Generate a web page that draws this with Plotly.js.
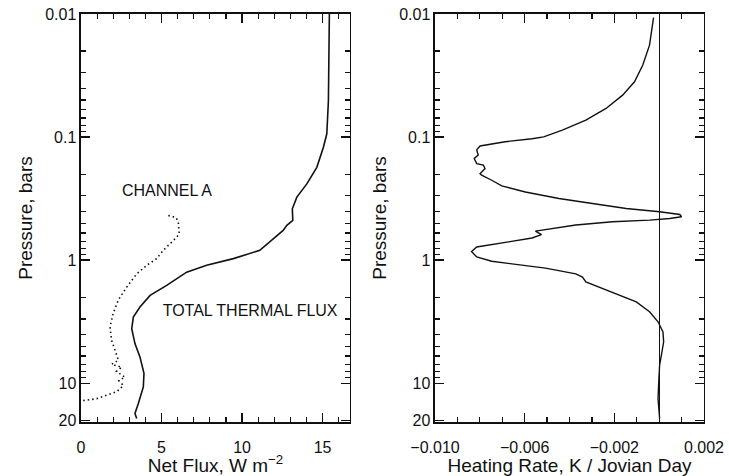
<!DOCTYPE html>
<html>
<head>
<meta charset="utf-8">
<script src="https://cdn.plot.ly/plotly-3.0.1.min.js"></script>
<style>
  html, body { margin: 0; padding: 0; background: #fff; }
  #chart { width: 729px; height: 476px; }
</style>
</head>
<body>
<div id="chart"></div>
<script>
// ---- Left panel: net flux (W m^-2) vs pressure (bars)
const totalFluxP = [0.01, 0.0506, 0.094, 0.121, 0.176, 0.24, 0.307, 0.382, 0.475, 0.52, 0.573, 0.67, 0.83, 0.97, 1.10, 1.25, 1.6, 1.93, 2.4, 2.89, 3.6, 4.75, 6.1, 8.3, 10.7, 14.6, 17.6, 19.3];
const totalFlux  = [15.42, 15.36, 15.26, 15.05, 14.64, 14.02, 13.4, 13.12, 13.15, 12.78, 12.55, 11.94, 11.1, 9.46, 7.8, 6.56, 5.32, 4.29, 3.66, 3.25, 3.15, 3.35, 3.66, 3.91, 3.87, 3.56, 3.35, 3.46];

const channelAP = [0.433, 0.45, 0.49, 0.61, 0.65, 0.73, 0.83, 0.97, 1.1, 1.29, 1.65, 2.1, 2.7, 3.47, 4.47, 5.35, 6.5, 7.0, 7.4, 8.0, 8.9, 9.5, 10.4, 11.7, 12.5, 13.3, 13.7, 13.8];
const channelA  = [5.42, 5.9, 6.04, 6.1, 5.94, 5.53, 5.11, 4.70, 4.08, 3.46, 2.84, 2.32, 2.0, 1.80, 1.9, 2.11, 2.32, 1.9, 2.53, 2.2, 2.73, 2.35, 2.63, 2.22, 1.60, 0.98, 0.35, 0.0];

// ---- Right panel: heating rate (K / Jovian day) vs pressure (bars)
const heatP = [0.0107, 0.0148, 0.0179, 0.026, 0.0355, 0.0456, 0.0585, 0.0728, 0.0877, 0.0995, 0.103, 0.109, 0.115, 0.118, 0.127, 0.140, 0.149, 0.164, 0.169, 0.180, 0.198, 0.204, 0.224, 0.249, 0.279, 0.315, 0.346, 0.380, 0.404, 0.425, 0.443, 0.458, 0.472, 0.487, 0.518, 0.55, 0.58, 0.62, 0.66, 0.71, 0.78, 0.85, 0.94, 1.02, 1.10, 1.16, 1.29, 1.37, 1.50, 1.75, 1.98, 2.18, 2.62, 3.16, 3.82, 4.6, 5.9, 7.1, 9.8, 13.3, 19.3];
const heatRate = [-0.00025, -0.00035, -0.00043, -0.00073, -0.0011, -0.00163, -0.00237, -0.00327, -0.00432, -0.00515, -0.00567, -0.00687, -0.00777, -0.00799, -0.00814, -0.00807, -0.00825, -0.00814, -0.00784, -0.00777, -0.00799, -0.00792, -0.00747, -0.00702, -0.00597, -0.00447, -0.00298, -0.00147, 0.00002, 0.00092, 0.00100, 0.00047, -0.00043, -0.00208, -0.00372, -0.00477, -0.00552, -0.00525, -0.00567, -0.00672, -0.00814, -0.00837, -0.00814, -0.00747, -0.00612, -0.00507, -0.00372, -0.00342, -0.00327, -0.00237, -0.00162, -0.00102, -0.00043, -0.00005, 0.00017, 0.00020, 0.0001, 0.00002, -0.00002, -0.00005, 0.00002];

// ---- Labels / tick positions
const curveLabels = ['CHANNEL A', 'TOTAL THERMAL FLUX'];
const pTickVals = [0.01, 0.1, 1, 10, 20];
const pMinorVals = [0.02,0.03,0.04,0.05,0.06,0.07,0.08,0.09,0.2,0.3,0.4,0.5,0.6,0.7,0.8,0.9,2,3,4,5,6,7,8,9];
const fluxTickVals = [0, 5, 10, 15];
const heatTickVals = [-0.010, -0.006, -0.002, 0.002];

const ink = '#111';
const mkFont = () => ({family: 'Liberation Sans', size: 16, color: ink});

const traces = [
  {x: totalFlux, y: totalFluxP, xaxis: 'x', yaxis: 'y', mode: 'lines',
   line: {color: ink, width: 1.6}},
  {x: channelA, y: channelAP, xaxis: 'x', yaxis: 'y', mode: 'lines',
   line: {color: ink, width: 1.6, dash: '1.5px,3px'}},
  {x: heatRate, y: heatP, xaxis: 'x2', yaxis: 'y2', mode: 'lines',
   line: {color: ink, width: 1.4}},
  {x: [5.34, 10.5], y: [0.28, 2.65], xaxis: 'x', yaxis: 'y', mode: 'text',
   text: curveLabels, textposition: 'middle center', textfont: mkFont()}
];

const pressureAxis = (anchor) => ({
  type: 'log', domain: [0.1134, 0.9706], anchor: anchor,
  range: [1.314, -2],
  showline: true, linecolor: ink, linewidth: 1.5, mirror: 'ticks',
  ticks: 'inside', ticklen: 9, tickwidth: 1.5, tickcolor: ink,
  showgrid: false, zeroline: false,
  tickmode: 'array', tickvals: pTickVals, tickfont: mkFont(),
  minor: {tickmode: 'array', tickvals: pMinorVals, ticks: 'inside', ticklen: 5, tickwidth: 1.2, tickcolor: ink},
  title: {text: 'Pressure, bars'}
});

const layout = {
  width: 729, height: 476,
  margin: {l: 0, r: 0, t: 0, b: 0},
  showlegend: false,
  font: mkFont(),
  xaxis: {
    domain: [0.1111, 0.4801], anchor: 'y', range: [0, 16.7],
    showline: true, linecolor: ink, linewidth: 1.5, mirror: 'ticks',
    ticks: 'inside', ticklen: 9, tickwidth: 1.5, tickcolor: ink,
    showgrid: false, zeroline: false,
    tickmode: 'array', tickvals: fluxTickVals, tickfont: mkFont(),
    ticklabelstandoff: 10,
    minor: {dtick: 1, tick0: 0, ticks: 'inside', ticklen: 5, tickwidth: 1.2, tickcolor: ink},
    title: {text: 'Net Flux, W m<sup>\u22122</sup>'}
  },
  yaxis: pressureAxis('x'),
  xaxis2: {
    domain: [0.5967, 0.9657], anchor: 'y2', range: [-0.010, 0.002],
    showline: true, linecolor: ink, linewidth: 1.5, mirror: 'ticks',
    ticks: 'inside', ticklen: 9, tickwidth: 1.5, tickcolor: ink,
    showgrid: false, zeroline: true, zerolinecolor: ink, zerolinewidth: 1.1,
    tickmode: 'array', tickvals: heatTickVals, tickformat: '.3f', tickfont: mkFont(),
    ticklabelstandoff: 10,
    minor: {dtick: 0.001, tick0: 0, ticks: 'inside', ticklen: 5, tickwidth: 1.2, tickcolor: ink},
    title: {text: 'Heating Rate, K / Jovian Day'}
  },
  yaxis2: pressureAxis('x2')
};

Plotly.newPlot('chart', traces, layout, {displayModeBar: false, staticPlot: true});
</script>
</body>
</html>
